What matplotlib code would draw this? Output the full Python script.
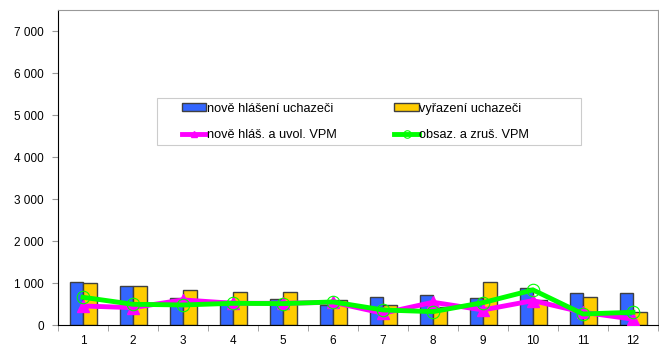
import numpy as np
import matplotlib.pyplot as plt
from matplotlib.patches import Rectangle
from matplotlib.ticker import FuncFormatter

months = ['1', '2', '3', '4', '5', '6', '7', '8', '9', '10', '11', '12']
nove_uchazeci = [1030, 940, 645, 560, 620, 480, 676, 716, 652, 891, 756, 756]
vyrazeni_uchazeci = [995, 940, 843, 780, 780, 597, 485, 420, 1034, 597, 676, 303]
nove_vpm = [453, 413, 597, 517, 517, 541, 280, 541, 358, 580, 303, 140]
obsaz_vpm = [660, 493, 477, 517, 509, 549, 358, 318, 533, 835, 262, 303]

plt.rcParams['font.family'] = ['Liberation Sans', 'DejaVu Sans']

fig = plt.figure(figsize=(6.59, 3.47), dpi=100)
ax = fig.add_axes([58 / 659, 22 / 347, 600 / 659, 315 / 347])

x = np.arange(len(months))
w = 0.27
b1 = ax.bar(x - w / 2, nove_uchazeci, w, color='#3366FF', edgecolor='#404040',
            linewidth=1, label='nově hlášení uchazeči', zorder=2)
b2 = ax.bar(x + w / 2, vyrazeni_uchazeci, w, color='#FFCC00', edgecolor='#404040',
            linewidth=1, label='vyřazení uchazeči', zorder=2)
l1, = ax.plot(x, nove_vpm, color='#FF00FF', linewidth=3.5, marker='^', markersize=8,
              label='nově hláš. a uvol. VPM', zorder=3)
l2, = ax.plot(x, obsaz_vpm, color='#00FF00', linewidth=3.5, marker='o', markersize=9,
              markerfacecolor='none', markeredgecolor='#00FF00', markeredgewidth=0.8,
              label='obsaz. a zruš. VPM', zorder=4)

ax.set_xlim(-0.5, len(months) - 0.5)
ax.set_ylim(0, 7500)
ax.set_yticks(range(0, 7001, 1000))
ax.yaxis.set_major_formatter(FuncFormatter(lambda v, p: f'{int(v):,}'.replace(',', ' ')))
ax.set_xticks(x)
ax.set_xticklabels(months)
ax.set_xticks(np.arange(-0.5, len(months)), minor=True)
ax.tick_params(axis='x', which='major', length=0, labelsize=8.5, pad=7)
ax.tick_params(axis='x', which='minor', length=4, color='#999999')
ax.tick_params(axis='y', length=4, color='#999999', labelsize=8.5, pad=6)

ax.spines['left'].set_color('black')
ax.spines['bottom'].set_color('black')
ax.spines['top'].set_color('#999999')
ax.spines['right'].set_color('#999999')

# legend frame drawn separately (wide side padding like the original)
ax.add_patch(Rectangle((0.165, 0.571), 0.707, 0.149, transform=ax.transAxes,
                       facecolor='white', edgecolor='#CCCCCC', linewidth=0.8, zorder=5))
leg = ax.legend([b1, l1, b2, l2],
                [b1.get_label(), l1.get_label(), b2.get_label(), l2.get_label()],
                ncol=2, loc='upper left', bbox_to_anchor=(0.207, 0.706),
                fontsize=9.2, frameon=False, handlelength=1.9, handletextpad=0.05,
                columnspacing=4.5, borderpad=0, borderaxespad=0, labelspacing=1.12,
                markerscale=0.6, handleheight=0.5)
leg.set_zorder(6)

fig.savefig('out.png', dpi=100)
